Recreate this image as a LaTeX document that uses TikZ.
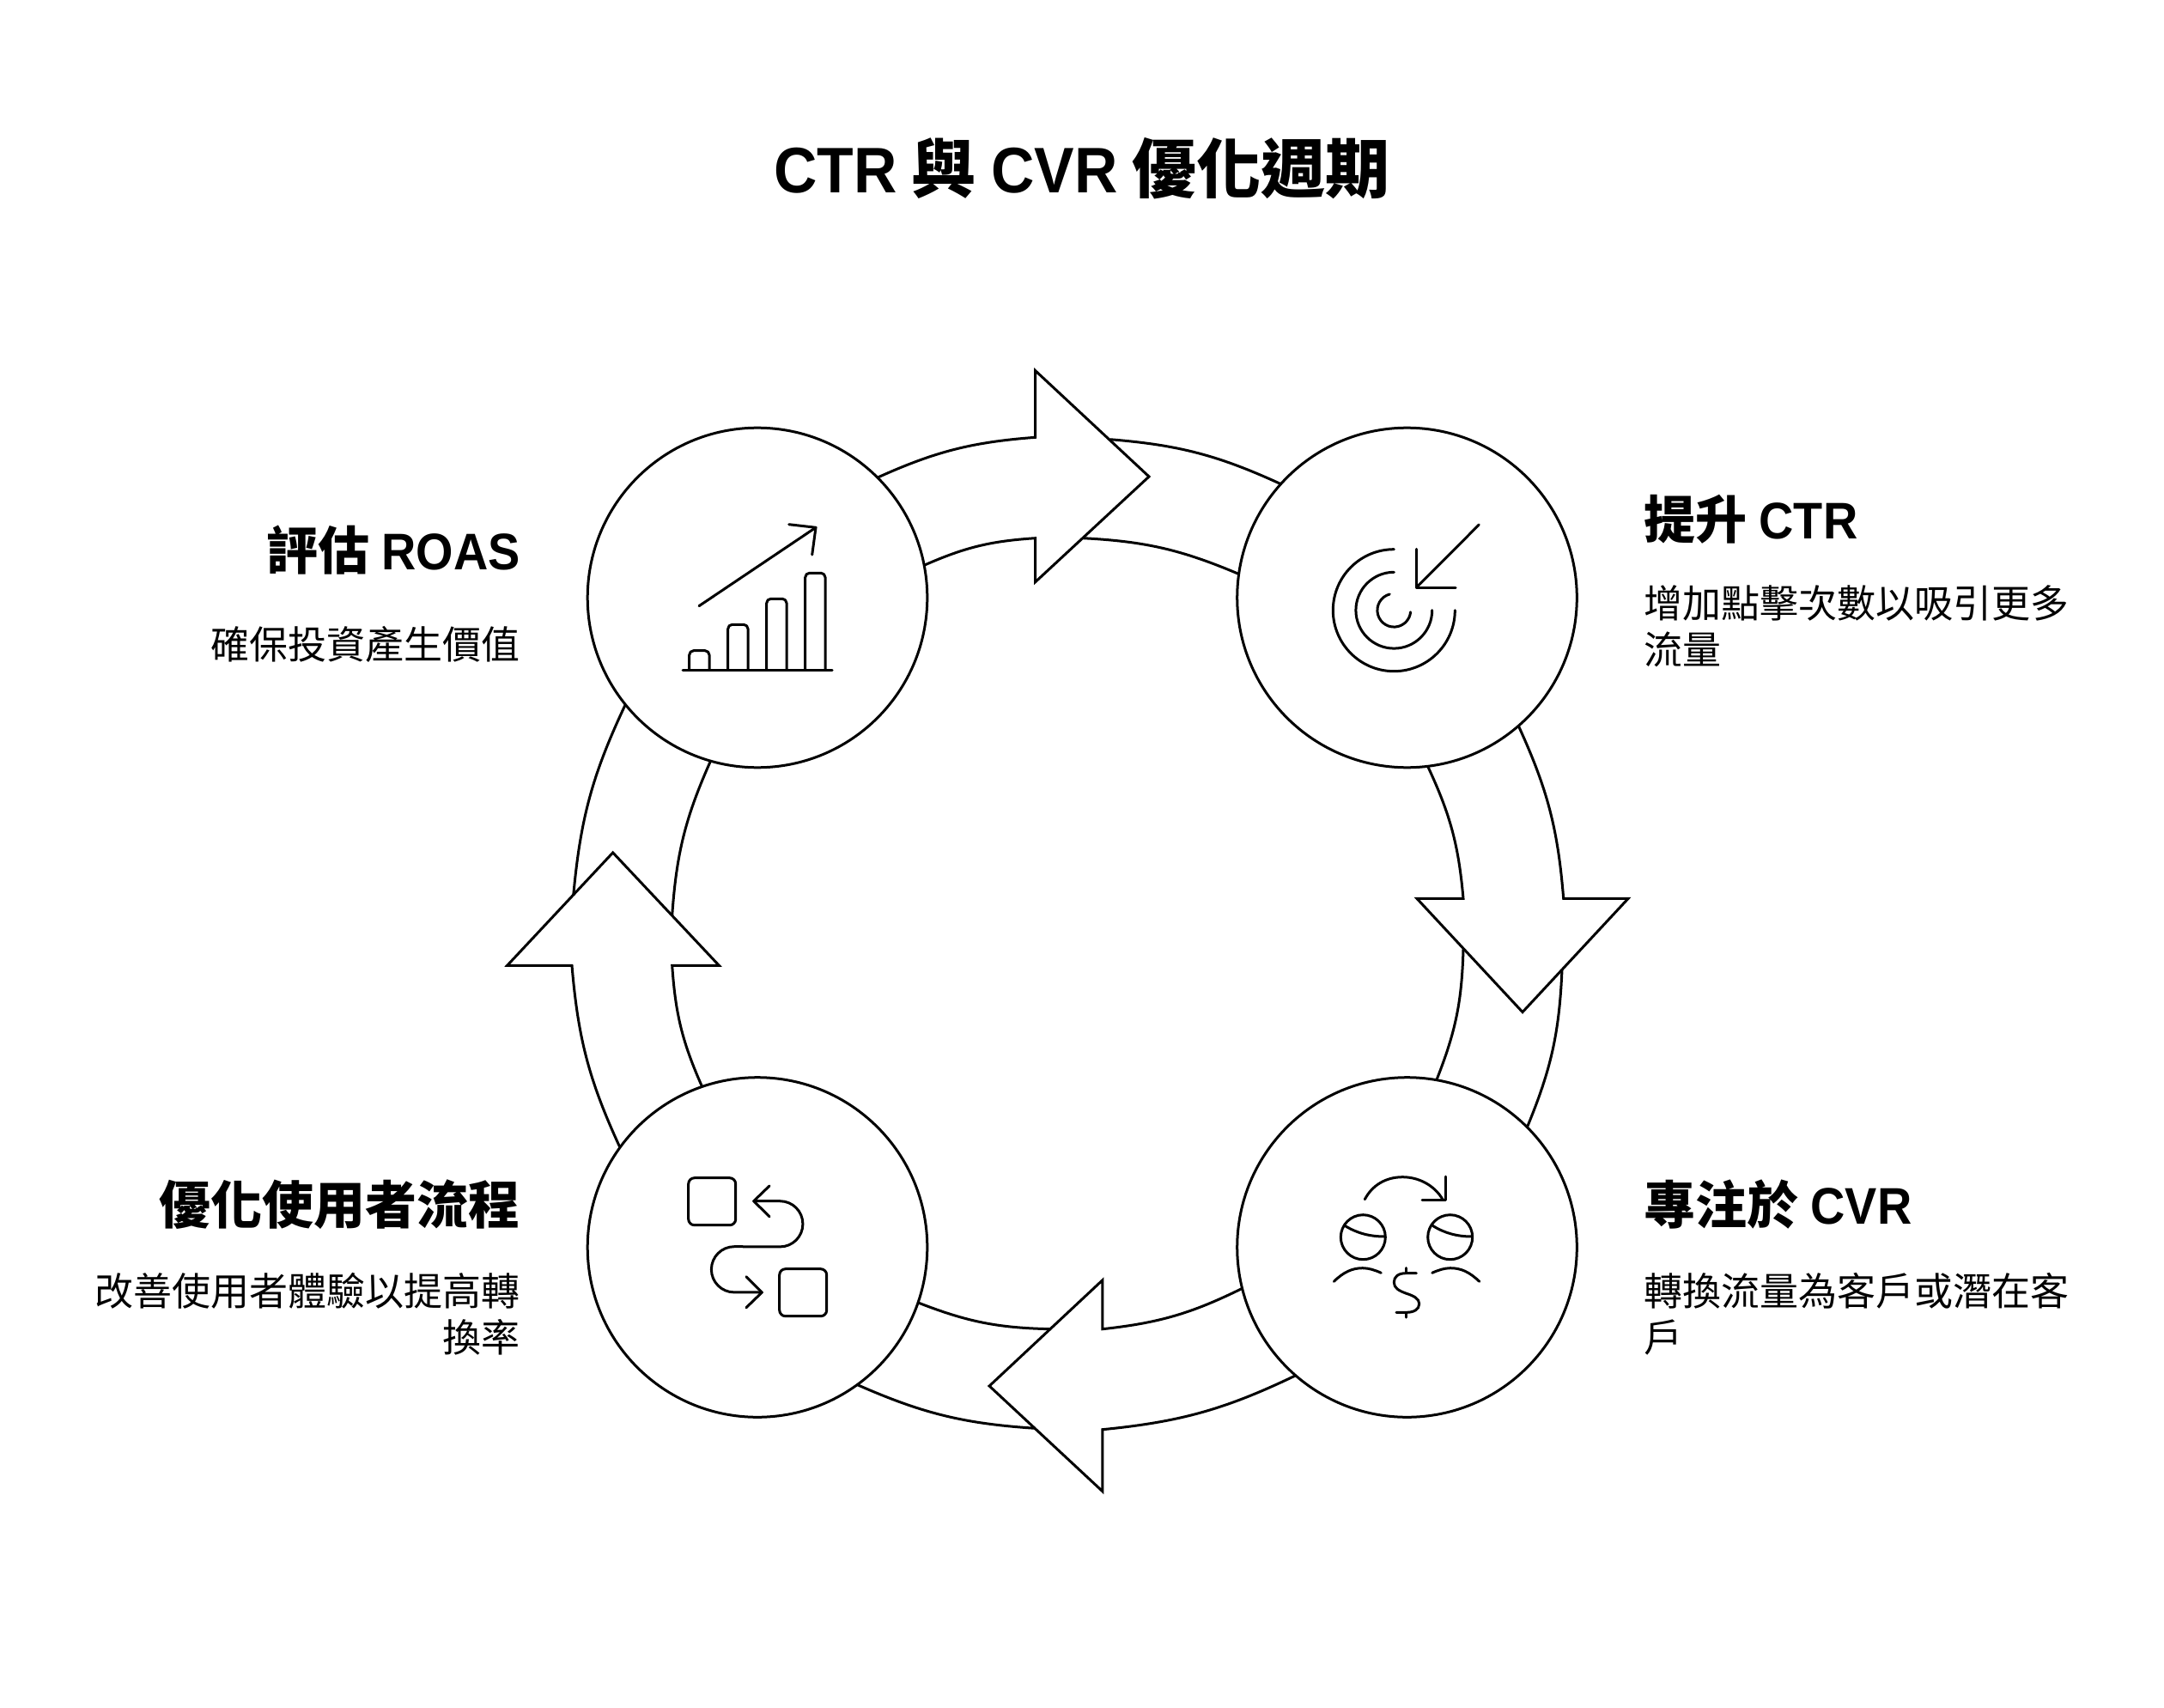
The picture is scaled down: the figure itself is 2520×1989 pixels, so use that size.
\documentclass[tikz,border=0pt]{standalone}
\usepackage{fontspec}
\setmainfont{Noto Sans CJK TC}
\newfontfamily\latinfont[FakeStretch=0.93]{Liberation Sans}
\newcommand{\lat}[1]{{\latinfont #1}}
\tikzset{
  stepcircle/.style={draw,circle,line width=1.5pt,minimum size=197.8pt,inner sep=0pt,outer sep=0pt},
  ringline/.style={draw,line width=1.5pt,line join=miter,bend angle=10},
  iconline/.style={draw,line width=1.5pt,line cap=round,line join=round},
  titletext/.style={inner sep=0pt,font=\bfseries\fontsize{37.5}{44}\selectfont},
  headtext/.style={inner sep=0pt,font=\bfseries\fontsize{30}{36}\selectfont},
  bodytext/.style={inner sep=0pt,font=\fontsize{22.5}{27}\selectfont}
}
\begin{document}
\begin{tikzpicture}[x=0.5pt,y=-0.5pt]
\useasboundingbox (0,0) rectangle (2520,1989);

\node[titletext] (title) at (1260,196.5) {\lat{CTR} 與 \lat{CVR} 優化週期};

\node[stepcircle] (roas) at (882,696) {};
\node[stepcircle] (ctr) at (1638.5,696) {};
\node[stepcircle] (cvr) at (1638.5,1452.5) {};
\node[stepcircle] (flow) at (882,1452.5) {};

\node[headtext,anchor=east] (roashead) at (606,640.5) {評估 \lat{ROAS}};
\node[bodytext,anchor=east] (roasbody) at (606,750) {確保投資產生價值};
\node[headtext,anchor=west] (ctrhead) at (1914.5,604.5) {提升 \lat{CTR}};
\node[bodytext,anchor=north west,align=left] (ctrbody) at (1914.5,681.5) {增加點擊次數以吸引更多\\流量};
\node[headtext,anchor=west] (cvrhead) at (1914.5,1402.5) {專注於 \lat{CVR}};
\node[bodytext,anchor=north west,align=left] (cvrbody) at (1914.5,1481.5) {轉換流量為客戶或潛在客\\戶};
\node[headtext,anchor=east] (flowhead) at (606,1403) {優化使用者流程};
\node[bodytext,anchor=north east,align=right] (flowbody) at (606,1481.5) {改善使用者體驗以提高轉\\換率};

% top arrow
\coordinate (topouter) at (1205.7,509.3);
\coordinate (topinner) at (1205.7,626.7);
\coordinate (topoutertail) at (1292.5,511.7);
\coordinate (topinnertail) at (1261,626.7);
\draw[ringline] (roas.45.6) to[bend left] (topouter) -- (1205.7,431.7) -- (1338,555) -- (1205.7,677.7) -- (topinner) to[bend right] (roas.11.1);
\draw[ringline] (topoutertail) to[bend left] (ctr.138.3);
\draw[ringline] (topinnertail) to[bend left] (ctr.172.6);

% right arrow
\coordinate (rightouter) at (1820.7,1046.4);
\coordinate (rightinner) at (1704,1046.4);
\coordinate (rightoutertail) at (1819,1128.6);
\coordinate (rightinnertail) at (1704,1105.4);
\draw[ringline] (ctr.311.2) to[bend left] (rightouter) -- (1896,1046.4) -- (1773,1178.6) -- (1650,1046.4) -- (rightinner) to[bend right] (ctr.277);
\draw[ringline] (rightoutertail) to[bend left] (cvr.45.5);
\draw[ringline] (rightinnertail) to[bend left] (cvr.80.1);

% bottom arrow
\coordinate (bottomouter) at (1283.9,1664.7);
\coordinate (bottominner) at (1283.9,1547.7);
\coordinate (bottomoutertail) at (1205.7,1663.3);
\coordinate (bottominnertail) at (1222.9,1547.7);
\draw[ringline] (cvr.229.2) to[bend left] (bottomouter) -- (1283.9,1736.7) -- (1152.1,1614) -- (1283.9,1490.7) -- (bottominner) to[bend right] (cvr.194.7);
\draw[ringline] (bottomoutertail) to[bend left] (flow.306.2);
\draw[ringline] (bottominnertail) to[bend left] (flow.341.1);

% left arrow
\coordinate (leftouter) at (666,1124.3);
\coordinate (leftinner) at (782.7,1124.3);
\coordinate (leftoutertail) at (667.7,1042.9);
\coordinate (leftinnertail) at (782.7,1066);
\draw[ringline] (flow.144.1) to[bend left] (leftouter) -- (590.7,1124.3) -- (713.7,992.9) -- (837.3,1124.3) -- (leftinner) to[bend right] (flow.109.2);
\draw[ringline] (leftoutertail) to[bend left] (roas.219.7);
\draw[ringline] (leftinnertail) to[bend left] (roas.254);

% chart icon
\draw[iconline] (795,780.3) -- (969,780.3);
\foreach \barx/\bartop in {802.7/757.7,847.7/727.3,892.7/697.3,937.7/667.3}
  \draw[iconline,rounded corners=2.5pt] (\barx,780.3) -- (\barx,\bartop) -- (\barx+23.3,\bartop) -- (\barx+23.3,780.3);
\draw[iconline] (814,705.7) -- (950,614.3);
\draw[iconline] (918.7,610.7) -- (950,614.3) -- (945.7,646);

% target icon
\draw[iconline] (1623.3,710.7) ++(90:35.5pt) arc[start angle=90,end angle=360,radius=35.5pt];
\draw[iconline] (1623.3,710.7) ++(90:22.2pt) arc[start angle=90,end angle=360,radius=22.2pt];
\draw[iconline] (1623.3,710.7) ++(105:9.7pt) arc[start angle=105,end angle=354,radius=9.7pt];
\draw[iconline] (1722.3,611) -- (1649.3,684.3);
\draw[iconline] (1649.3,639.3) -- (1649.3,684.3) -- (1695,684.3);

% money icon
\draw[iconline] (1589.3,1396.7) .. controls (1598,1380) and (1614,1370.7) .. (1633.3,1370.7) .. controls (1652,1370.7) and (1670,1380) .. (1680,1396.7);
\draw[iconline] (1683.3,1370) -- (1683.3,1397.3) -- (1656,1397.3);
\draw[iconline] (1587.3,1440.7) circle[radius=13pt];
\draw[iconline] (1688.7,1440.7) circle[radius=13pt];
\draw[iconline] (1566,1427.3) .. controls (1580,1436) and (1595,1440) .. (1612.7,1440);
\draw[iconline] (1668.3,1427.3) .. controls (1682,1436) and (1697,1440) .. (1714,1440);
\draw[iconline] (1553.3,1492.3) .. controls (1565,1481) and (1575,1476.7) .. (1586.7,1476.7) .. controls (1594,1476.7) and (1601,1479) .. (1608.3,1482.3);
\draw[iconline] (1667.7,1482.3) .. controls (1675,1479) and (1682,1476.7) .. (1689,1476.7) .. controls (1701,1476.7) and (1711,1481) .. (1722.7,1492.3);
\draw[iconline] (1649.3,1482.7) -- (1637,1482.7) .. controls (1628,1482.7) and (1623.3,1487) .. (1623.3,1493.3) .. controls (1623.3,1500) and (1629,1503) .. (1637,1506) .. controls (1646,1509) and (1652.7,1512) .. (1652.7,1518.3) .. controls (1652.7,1525) and (1646,1528.3) .. (1638,1528.3) -- (1626,1528.3);
\draw[iconline] (1637.7,1476.7) -- (1637.7,1482.7);
\draw[iconline] (1637.7,1528.3) -- (1637.7,1534);

% flow icon
\draw[iconline,rounded corners=3.5pt] (801.7,1371.7) rectangle (856.7,1426.7);
\draw[iconline,rounded corners=3.5pt] (907.7,1477.7) rectangle (962.7,1532.7);
\draw[iconline] (877.7,1398.7) -- (908.3,1398.7) arc[start angle=90,end angle=-90,radius=13.3pt] -- (855,1451.7) arc[start angle=90,end angle=270,radius=13.3pt] -- (887.3,1505);
\draw[iconline] (896,1381) -- (877.7,1398.7) -- (896,1416.7);
\draw[iconline] (869,1486.7) -- (887.3,1505) -- (869,1522.7);
\end{tikzpicture}
\end{document}
